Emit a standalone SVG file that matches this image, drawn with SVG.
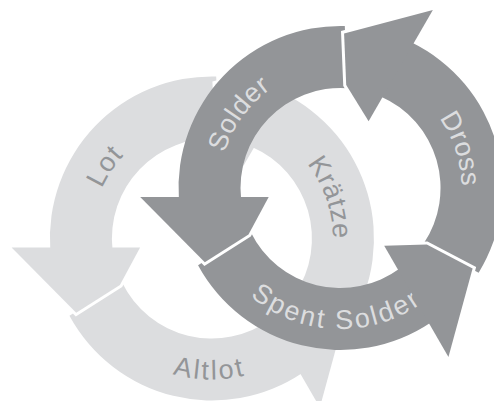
<svg xmlns="http://www.w3.org/2000/svg" width="494" height="401" viewBox="0 0 494 401">
<style>
.dk{fill:#939598}
.lt{fill:#dcdddf}
.halo{fill:none;stroke:#ffffff;stroke-width:6;stroke-linejoin:miter;stroke-miterlimit:10}
.lbl{font-family:"Liberation Sans",Arial,Helvetica,sans-serif;font-size:27px;text-anchor:middle}
.on-dk{fill:#dcdddf}
.on-lt{fill:#939598}
</style>
<defs>
<path id="body" d="M344.8,26 A162,162 0 0 0 178.87,199 L241.11,199 A100,100 0 0 1 347.3,88.2 Z"/>
<path id="head" d="M140.2,197 L204.8,262.2 L248.5,234.5 L268.7,197 Z"/>
<path id="edge" d="M140.2,197 L204.8,262.2 L248.5,234.5 L268.7,197"/>
<path id="tp-solder" d="M226.8,229.38 A121,121 0 0 1 344.72,67.07"/>
<path id="tp-dross" d="M373.85,71.69 A121,121 0 0 1 435.85,262.49"/>
<path id="tp-spent" d="M201.64,212.48 A141,141 0 0 0 479.36,212.48"/>
<path id="tp-lot" d="M99.71,283.83 A121,121 0 0 1 211.9,117.5"/>
<path id="tp-kraetze" d="M243.22,121.62 A121,121 0 0 1 308.54,311.32"/>
<path id="tp-altlot" d="M73.04,262.98 A141,141 0 0 0 350.76,262.98"/>
</defs>

<g id="light-cycle">
<g id="lot">
<use href="#body" class="lt" transform="translate(-128.6 50.5)"/>
<text class="lbl on-lt" letter-spacing="1"><textPath href="#tp-lot" startOffset="50%">Lot</textPath></text>
</g>
<g id="altlot">
<use href="#body" class="lt" transform="translate(-128.6 50.5) rotate(-120 340.5 188)"/>
<text class="lbl on-lt" letter-spacing="2.5"><textPath href="#tp-altlot" startOffset="49.4%">Altlot</textPath></text>
</g>
<g id="kraetze">
<use href="#body" class="lt" transform="translate(-128.6 50.5) rotate(120 340.5 188)"/>
<text class="lbl on-lt" letter-spacing="0.5"><textPath href="#tp-kraetze" startOffset="50%">Krätze</textPath></text>
</g>
<g id="light-arrowheads">
<use href="#edge" class="halo" transform="translate(-128.6 50.5)"/>
<use href="#head" class="lt" transform="translate(-128.6 50.5)"/>
<use href="#edge" class="halo" transform="translate(-128.6 50.5) rotate(-120 340.5 188)"/>
<use href="#head" class="lt" transform="translate(-128.6 50.5) rotate(-120 340.5 188)"/>
<use href="#edge" class="halo" transform="translate(-128.6 50.5) rotate(120 340.5 188)"/>
<use href="#head" class="lt" transform="translate(-128.6 50.5) rotate(120 340.5 188)"/>
</g>
</g>

<g id="dark-cycle">
<g id="solder">
<use href="#body" class="dk"/>
<text class="lbl on-dk" letter-spacing="0.5"><textPath href="#tp-solder" startOffset="50%">Solder</textPath></text>
</g>
<g id="spent-solder">
<use href="#body" class="dk" transform="rotate(-120 340.5 188)"/>
<text class="lbl on-dk" letter-spacing="2.5"><textPath href="#tp-spent" startOffset="48.75%">Spent Solder</textPath></text>
</g>
<g id="dross">
<use href="#body" class="dk" transform="rotate(120 340.5 188)"/>
<text class="lbl on-dk" letter-spacing="0.5"><textPath href="#tp-dross" startOffset="50%">Dross</textPath></text>
</g>
<g id="dark-arrowheads">
<use href="#edge" class="halo"/>
<use href="#head" class="dk"/>
<use href="#edge" class="halo" transform="rotate(-120 340.5 188)"/>
<use href="#head" class="dk" transform="rotate(-120 340.5 188)"/>
<use href="#edge" class="halo" transform="rotate(120 340.5 188)"/>
<use href="#head" class="dk" transform="rotate(120 340.5 188)"/>
</g>
</g>
</svg>
